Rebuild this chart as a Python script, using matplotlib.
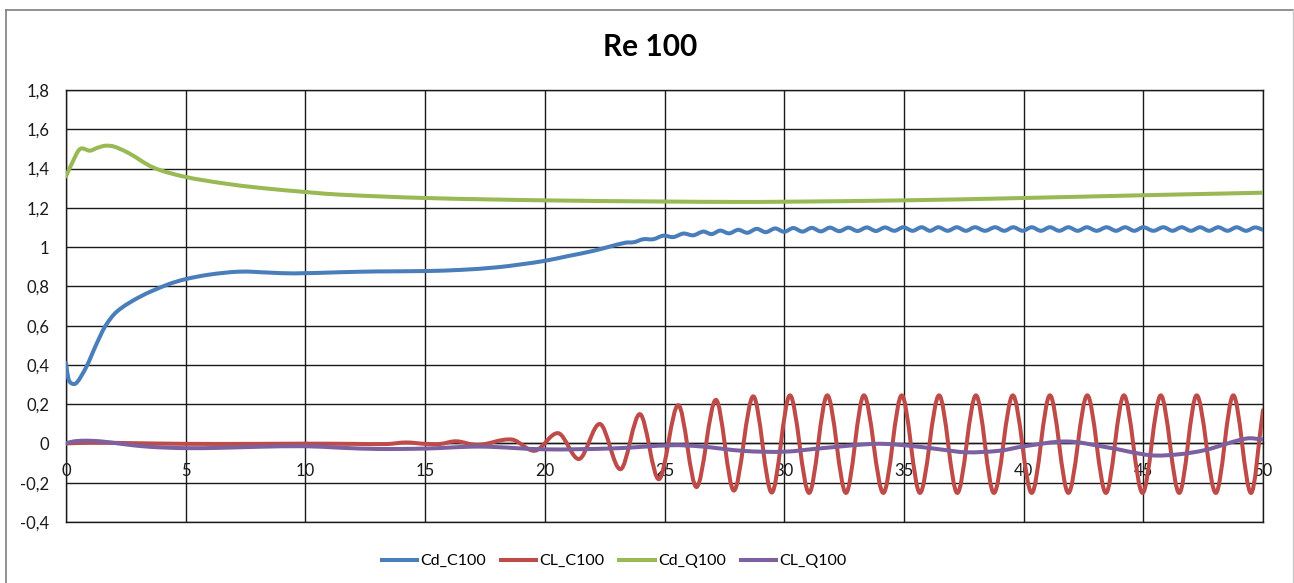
import numpy as np
import matplotlib.pyplot as plt
from matplotlib.path import Path
from matplotlib.patches import PathPatch
from matplotlib.lines import Line2D

plt.rcParams['font.family'] = ['Lato', 'DejaVu Sans']

# Cd / CL histories for the cylinder (C) and square (Q) cases at Re = 100
cd_c100_t = [0, 0.1, 0.25, 0.45, 0.85, 1.25, 1.63, 2.12, 3.09, 4.2, 4.97, 6.0, 7.27, 8.5, 9.5,
             11.45, 13, 15, 16.5, 18, 19, 20, 21, 22,
             23.35, 23.73, 24.11, 24.53, 24.95, 25.37, 25.79, 26.2, 26.62, 26.97, 27.32, 27.7,
             28.08, 28.46, 28.85, 29.23, 29.62, 30.0, 30.38, 30.76, 31.15, 31.53, 31.91, 32.3,
             32.68, 33.06, 33.45, 33.83, 34.21, 34.6, 34.98, 35.36, 35.74, 36.09, 36.44, 36.83,
             37.21, 37.59, 37.97, 38.39, 38.81, 39.19, 39.57, 39.96, 40.34, 40.72, 41.1, 41.49,
             41.87, 42.26, 42.64, 43.05, 43.47, 43.86, 44.24, 44.62, 45.0, 45.42, 45.84, 46.22,
             46.6, 46.99, 47.37, 47.75, 48.13, 48.52, 48.9, 49.29, 49.67, 50.0]
cd_c100 = [0.41, 0.33, 0.305, 0.31, 0.39, 0.50, 0.595, 0.671, 0.747, 0.807, 0.836, 0.86, 0.875,
           0.87, 0.866, 0.872, 0.876, 0.878, 0.884, 0.897, 0.912, 0.93, 0.955, 0.98,
           1.022, 1.025, 1.040, 1.040, 1.058, 1.051, 1.069, 1.060, 1.079, 1.066, 1.084, 1.070,
           1.088, 1.073, 1.093, 1.076, 1.095, 1.078, 1.097, 1.079, 1.098, 1.080, 1.099, 1.081,
           1.099, 1.082, 1.100, 1.082, 1.100, 1.083, 1.101, 1.083, 1.101, 1.083, 1.101, 1.083,
           1.101, 1.083, 1.101, 1.083, 1.101, 1.083, 1.101, 1.083, 1.101, 1.083, 1.101, 1.083,
           1.101, 1.083, 1.101, 1.083, 1.101, 1.083, 1.101, 1.083, 1.101, 1.083, 1.101, 1.083,
           1.101, 1.083, 1.101, 1.083, 1.101, 1.083, 1.101, 1.083, 1.100, 1.088]

cl_c100_t = [0, 1, 2.5, 5, 8, 10, 12, 13.4, 14.2, 15.0, 15.6, 16.3, 17.2, 18.62, 19.59, 20.57,
             21.44, 22.31, 23.17, 23.98, 24.77, 25.58, 26.34, 27.15, 27.9, 28.71, 29.48, 30.24,
             31.04, 31.8, 32.58, 33.33, 34.14, 34.91, 35.67, 36.47, 37.23, 38.01, 38.76, 39.55,
             40.34, 41.1, 41.87, 42.66, 43.44, 44.19, 44.97, 45.73, 46.5, 47.23, 48.03, 48.76,
             49.49, 50.0]
cl_c100 = [0.0, 0.004, 0.002, -0.002, -0.002, -0.001, -0.002, -0.003, 0.005, -0.002, -0.003,
           0.011, -0.008, 0.02, -0.037, 0.052, -0.079, 0.099, -0.131, 0.149, -0.182, 0.195,
           -0.222, 0.222, -0.24, 0.24, -0.25, 0.245, -0.252, 0.245, -0.252, 0.245, -0.252,
           0.245, -0.252, 0.245, -0.252, 0.245, -0.252, 0.245, -0.252, 0.245, -0.252, 0.245,
           -0.252, 0.245, -0.252, 0.245, -0.252, 0.245, -0.252, 0.245, -0.252, 0.17]

cd_q100_t = [0, 0.25, 0.58, 1.0, 1.3, 1.63, 2.0, 2.6, 3.65, 4.97, 6.56, 8, 10.05, 11.45, 15,
             20, 25, 28, 30, 35, 40, 45, 50]
cd_q100 = [1.36, 1.427, 1.499, 1.491, 1.505, 1.516, 1.512, 1.48, 1.405, 1.358, 1.325, 1.303,
           1.28, 1.267, 1.25, 1.238, 1.232, 1.230, 1.231, 1.238, 1.25, 1.264, 1.277]

cl_q100_t = [0, 0.3, 0.8, 1.5, 2.5, 3.5, 5, 6.5, 8, 10, 11.5, 13, 15, 17.3, 20, 22.9, 25.3,
             26.5, 28.3, 30, 31.5, 33.8, 35.1, 36.5, 37.6, 39, 40, 41.8, 43.5, 45.3, 46.5,
             47.6, 49.3, 50]
cl_q100 = [0.0, 0.01, 0.014, 0.01, -0.005, -0.017, -0.024, -0.022, -0.017, -0.014, -0.022,
           -0.028, -0.026, -0.016, -0.03, -0.025, -0.009, -0.015, -0.038, -0.042, -0.025,
           -0.002, -0.01, -0.03, -0.045, -0.037, -0.015, 0.01, -0.02, -0.06, -0.055, -0.033,
           0.025, 0.02]

series_names = ['Cd_C100', 'CL_C100', 'Cd_Q100', 'CL_Q100']
series_colors = ['#4A7EBB', '#BE4B48', '#98B954', '#7D60A0']

x_ticks = [0, 5, 10, 15, 20, 25, 30, 35, 40, 45, 50]
y_ticks = [-0.4, -0.2, 0, 0.2, 0.4, 0.6, 0.8, 1.0, 1.2, 1.4, 1.6, 1.8]
y_tick_labels = ['-0,4', '-0,2', '0', '0,2', '0,4', '0,6', '0,8', '1', '1,2', '1,4', '1,6', '1,8']


def smooth_path(t, y):
    # piecewise cubic Hermite through the points, written as Bezier segments
    t = np.asarray(t, float)
    y = np.asarray(y, float)
    slope = np.empty_like(y)
    slope[1:-1] = (y[2:] - y[:-2]) / (t[2:] - t[:-2])
    slope[0] = (y[1] - y[0]) / (t[1] - t[0])
    slope[-1] = (y[-1] - y[-2]) / (t[-1] - t[-2])
    verts = [(t[0], y[0])]
    codes = [Path.MOVETO]
    for i in range(len(t) - 1):
        h = (t[i + 1] - t[i]) / 3
        verts += [(t[i] + h, y[i] + slope[i] * h),
                  (t[i + 1] - h, y[i + 1] - slope[i + 1] * h),
                  (t[i + 1], y[i + 1])]
        codes += [Path.CURVE4] * 3
    return Path(verts, codes)


W, H = 1294, 583
fig = plt.figure(figsize=(W / 100, H / 100), dpi=100)
ax = fig.add_axes([66 / W, 1 - 522 / H, (1263 - 66) / W, (522 - 90) / H])

data = [(cd_c100_t, cd_c100), (cl_c100_t, cl_c100), (cd_q100_t, cd_q100), (cl_q100_t, cl_q100)]
for k, ((t, y), color) in enumerate(zip(data, series_colors)):
    ax.add_patch(PathPatch(smooth_path(t, y), facecolor='none', edgecolor=color,
                           lw=2.9, capstyle='round', joinstyle='round', zorder=3 + k))

ax.set_xlim(0, 50)
ax.set_ylim(-0.4, 1.8)
ax.set_xticks(x_ticks)
ax.set_yticks(y_ticks)
ax.set_yticklabels(y_tick_labels)
ax.grid(True, color='#1a1a1a', lw=1.0)
ax.tick_params(length=0, labelsize=12, colors='#1a1a1a')
ax.tick_params(axis='y', pad=12)
ax.tick_params(axis='x', pad=14)
for side in ['left', 'right', 'top', 'bottom']:
    ax.spines[side].set_color('#1a1a1a')
    ax.spines[side].set_linewidth(1.0)
ax.spines['bottom'].set_position(('data', 0))
ax.axhline(-0.4, color='#1a1a1a', lw=1.0, clip_on=False, zorder=2)

fig.text(650 / W, 1 - 47 / H, 'Re 100', ha='center', va='center', fontsize=21.5,
         fontweight='bold', color='#000000')

handles = [Line2D([], [], color=c, lw=2.9) for c in series_colors]
fig.legend(handles, series_names, loc='center', bbox_to_anchor=(614 / W, 1 - 561 / H),
           ncol=4, frameon=False, fontsize=11.5, handlelength=2.2, handletextpad=0.2,
           columnspacing=0.95)

# chart-area frame
fig.add_artist(Line2D([6 / W, 6 / W], [0, 1 - 10 / H], color='#7f7f7f', lw=1.2))
fig.add_artist(Line2D([6 / W, 1293 / W], [1 - 10 / H, 1 - 10 / H], color='#7f7f7f', lw=1.2))
fig.add_artist(Line2D([1293 / W, 1293 / W], [0, 1 - 10 / H], color='#c8c8c8', lw=1.0))

fig.savefig('out.png', dpi=100)
